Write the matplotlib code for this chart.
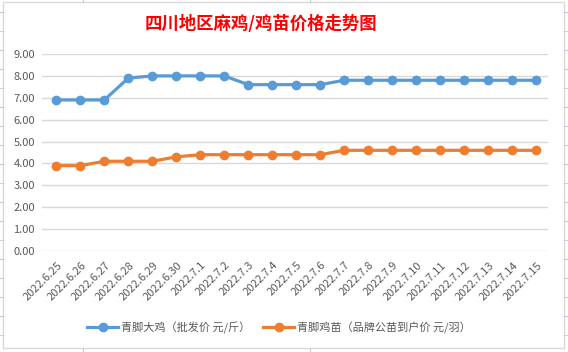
import matplotlib.pyplot as plt
from matplotlib.lines import Line2D
from matplotlib.patches import Rectangle
from matplotlib.transforms import ScaledTranslation

plt.rcParams['font.family'] = ['Noto Sans CJK SC', 'DejaVu Sans']

dates = ['2022.6.25', '2022.6.26', '2022.6.27', '2022.6.28', '2022.6.29', '2022.6.30',
         '2022.7.1', '2022.7.2', '2022.7.3', '2022.7.4', '2022.7.5', '2022.7.6',
         '2022.7.7', '2022.7.8', '2022.7.9', '2022.7.10', '2022.7.11', '2022.7.12',
         '2022.7.13', '2022.7.14', '2022.7.15']
big_chicken = [6.9, 6.9, 6.9, 7.9, 8.0, 8.0, 8.0, 8.0, 7.6, 7.6, 7.6, 7.6,
               7.8, 7.8, 7.8, 7.8, 7.8, 7.8, 7.8, 7.8, 7.8]
chick = [3.9, 3.9, 4.1, 4.1, 4.1, 4.3, 4.4, 4.4, 4.4, 4.4, 4.4, 4.4,
         4.6, 4.6, 4.6, 4.6, 4.6, 4.6, 4.6, 4.6, 4.6]
series_names = ['青脚大鸡（批发价 元/斤）', '青脚鸡苗（品牌公苗到户价 元/羽）']
title = '四川地区麻鸡/鸡苗价格走势图'

W, H = 568, 352
fig = plt.figure(figsize=(W / 100, H / 100), dpi=100)

# spreadsheet cell lines behind the chart
cell = '#C9CDD8'
for y in range(12, H, 19):
    fig.add_artist(Line2D([0, 3 / W], [1 - y / H] * 2, color=cell, lw=0.8))
    fig.add_artist(Line2D([564 / W, 1], [1 - y / H] * 2, color=cell, lw=0.8))
for x in (83, 310):
    fig.add_artist(Line2D([x / W] * 2, [1 - 2 / H, 1], color=cell, lw=0.8))
    fig.add_artist(Line2D([x / W] * 2, [0, 4 / H], color=cell, lw=0.8))
fig.add_artist(Rectangle((3 / W, 4 / H), 561 / W, 346 / H, transform=fig.transFigure,
                         facecolor='white', edgecolor='#D9D9D9', lw=1.0, zorder=0))

ax = fig.add_axes([42 / W, 101 / H, 506 / W, 197 / H])
ax.set_facecolor('none')
x = list(range(len(dates)))
ax.plot(x, big_chicken, color='#5B9BD5', lw=2.3, marker='o', ms=6, label=series_names[0])
ax.plot(x, chick, color='#ED7D31', lw=2.3, marker='o', ms=6, label=series_names[1])

ax.set_xlim(-0.6, 20.5)
ax.set_ylim(0, 9)
ax.set_yticks(range(0, 10))
ax.set_yticklabels([f'{v:.2f}' for v in range(0, 10)])
ax.grid(axis='y', color='#D9D9D9', lw=1)
ax.set_axisbelow(True)
for s in ax.spines.values():
    s.set_visible(False)
ax.tick_params(length=0, colors='#595959', labelsize=8)
ax.tick_params(axis='y', pad=5)
ax.set_xticks(x)
ax.set_xticklabels(dates, rotation=45, ha='right', va='center', rotation_mode='anchor')
ax.tick_params(axis='x', pad=9)
shift = ScaledTranslation(4 / 100, 0, fig.dpi_scale_trans)
for lbl in ax.get_xticklabels():
    lbl.set_transform(lbl.get_transform() + shift)

fig.text(0.46, 1 - 24 / H, title, color='red', fontsize=12.5, fontweight='bold',
         ha='center', va='center')

ax.legend(loc='center', bbox_to_anchor=(0.468, -0.39), ncol=2, frameon=False,
          fontsize=8, labelcolor='#595959', handlelength=2.8, columnspacing=1.2,
          handletextpad=0.2)

fig.savefig('out.png', dpi=100)
